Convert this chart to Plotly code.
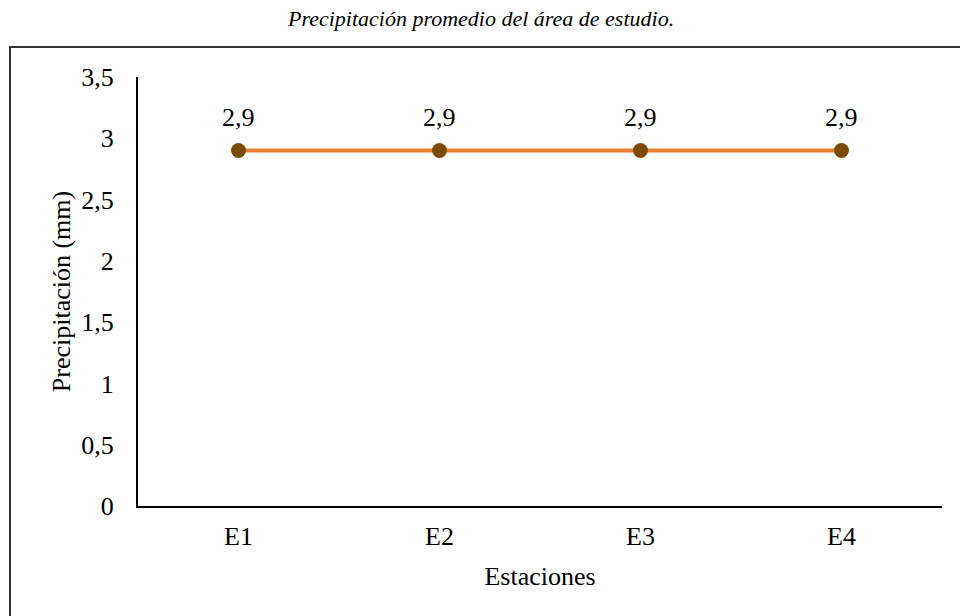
import plotly.graph_objects as go

# Data
estaciones = ['E1', 'E2', 'E3', 'E4']
precipitacion = [2.9, 2.9, 2.9, 2.9]
etiquetas = ['2,9', '2,9', '2,9', '2,9']
y_ticks = [0, 0.5, 1, 1.5, 2, 2.5, 3, 3.5]
y_tick_labels = ['0', '0,5', '1', '1,5', '2', '2,5', '3', '3,5']

FONT = 'Liberation Serif, Times New Roman, serif'

fig = go.Figure()

fig.add_trace(go.Scatter(
    x=estaciones,
    y=precipitacion,
    mode='lines+markers',
    line=dict(color='#ED7D31', width=4),
    marker=dict(size=15, color='#7B4A00'),
    cliponaxis=False,
    showlegend=False,
    hoverinfo='skip',
))

# data labels above each point
labels = [dict(
    x=e, y=v, text=t, xref='x', yref='y',
    showarrow=False, yshift=33, xanchor='center', yanchor='middle',
    font=dict(family=FONT, size=26, color='#000000'),
) for e, v, t in zip(estaciones, precipitacion, etiquetas)]

# caption centred on the page, not on the plot area
labels.append(dict(
    text='<i>Precipitación promedio del área de estudio.</i>',
    xref='paper', yref='paper', x=(480 - 138) / 804, y=1,
    yshift=59, xanchor='center', yanchor='middle',
    showarrow=False,
    font=dict(family=FONT, size=22, color='#000000'),
))

fig.update_layout(
    width=960,
    height=616,
    margin=dict(l=138, r=18, t=77, b=110),
    paper_bgcolor='white',
    plot_bgcolor='white',
    font=dict(family=FONT, size=26, color='#000000'),
    annotations=labels,
    shapes=[dict(
        type='rect', xref='paper', yref='paper',
        x0=-0.1592, x1=1.1, y0=-0.5, y1=1.07,
        line=dict(color='#333333', width=2),
        fillcolor='rgba(0,0,0,0)',
        layer='below',
    )],
)

fig.update_xaxes(
    type='category',
    range=[-0.5, 3.5],
    showline=True, linecolor='#000000', linewidth=2,
    showgrid=False, ticks='',
    ticklabelstandoff=6,
    tickfont=dict(size=26, family=FONT),
    title=dict(text='Estaciones', font=dict(size=26, family=FONT), standoff=17),
)

fig.update_yaxes(
    range=[0, 3.5],
    tickvals=y_ticks, ticktext=y_tick_labels,
    showline=True, linecolor='#000000', linewidth=2,
    showgrid=False, zeroline=False, ticks='',
    ticklabelstandoff=17,
    tickfont=dict(size=26, family=FONT),
    title=dict(text='Precipitación (mm)', font=dict(size=26, family=FONT), standoff=3),
)

fig.write_html('out.html', config={'displayModeBar': False},
               post_script="document.body.style.margin='0';")
